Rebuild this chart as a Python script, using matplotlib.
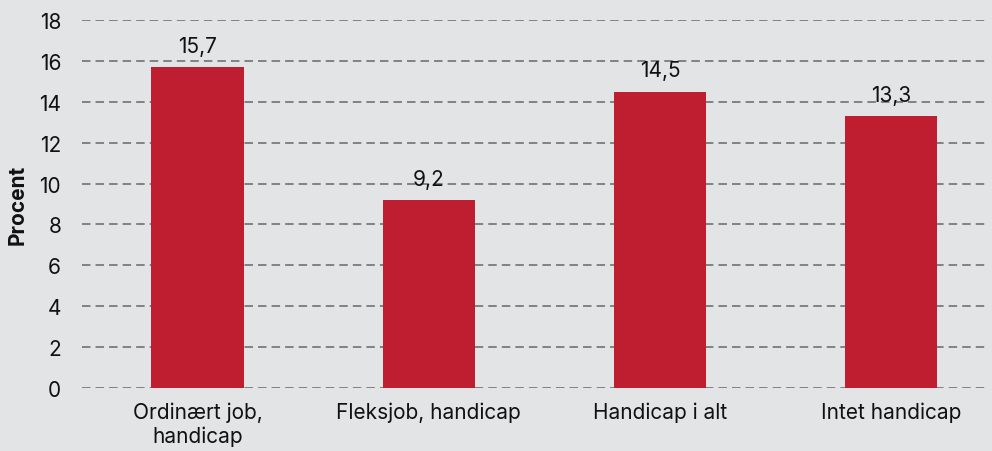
import matplotlib.pyplot as plt

# Data
kategorier = ['Ordinært job,\nhandicap', 'Fleksjob, handicap', 'Handicap i alt', 'Intet handicap']
procent = [15.7, 9.2, 14.5, 13.3]
y_ticks = [0, 2, 4, 6, 8, 10, 12, 14, 16, 18]

bg = '#e3e4e6'
bar_farve = '#be1e2f'

plt.rcParams['font.family'] = ['Inter', 'DejaVu Sans']

fig = plt.figure(figsize=(9.92, 4.52), dpi=100, facecolor=bg)
ax = fig.add_axes([82 / 992, 63 / 452, 905 / 992, 368 / 452], facecolor=bg)

x = range(len(kategorier))
bars = ax.bar(x, procent, width=0.4, color=bar_farve, zorder=3)

# Værdier over søjlerne
for xi, v in zip(x, procent):
    ax.annotate(f'{v:.1f}'.replace('.', ','), (xi, v), xytext=(0, 8),
                textcoords='offset points', ha='center', va='bottom',
                fontsize=15, color='#111111', zorder=4)

ax.set_xlim(-0.5, 3.415)
ax.set_ylim(0, 18)
ax.set_yticks(y_ticks)
ax.set_xticks(list(x))
ax.set_xticklabels(kategorier, fontsize=15, color='#111111')
ax.tick_params(axis='y', labelsize=15, labelcolor='#111111', length=0, pad=15)
ax.tick_params(axis='x', length=0, pad=10)

ax.yaxis.grid(True, color='#7a7a7a', linestyle=(0, (4.7, 2.8)), linewidth=1.3, zorder=0)
ax.set_axisbelow(True)
for s in ax.spines.values():
    s.set_visible(False)

ax.set_ylabel('Procent', fontsize=15, fontweight='bold', color='#111111', labelpad=8)

fig.savefig('out.png', dpi=100, facecolor=bg)
